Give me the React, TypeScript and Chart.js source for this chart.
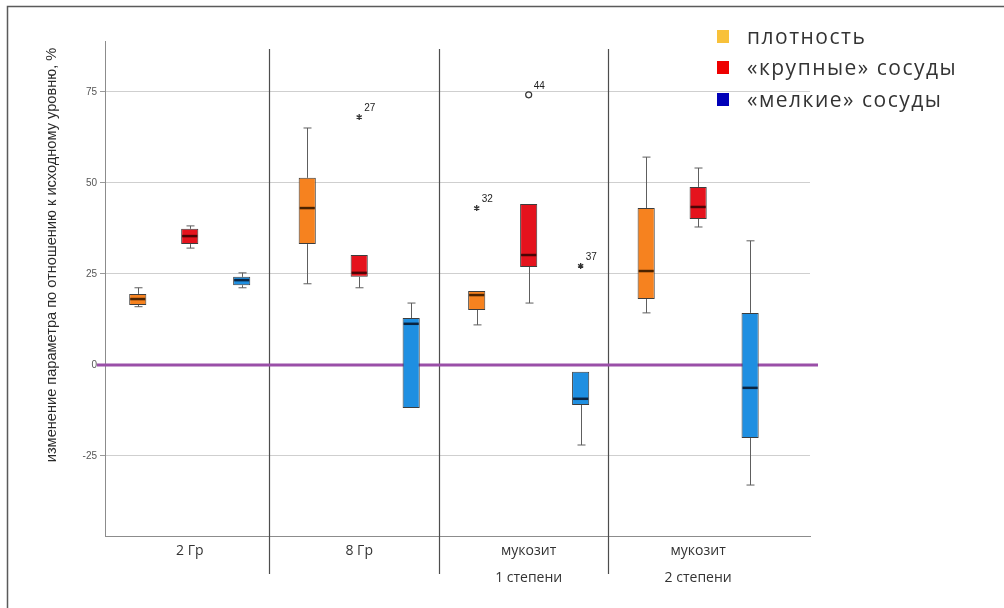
import React, { useEffect, useRef } from 'react';
import { Chart, registerables } from 'chart.js';

Chart.register(...registerables);

// ---------- data ----------
const categories: (string | string[])[] = ['2 Гр', '8 Гр', ['мукозит', '1 степени'], ['мукозит', '2 степени']];
const seriesNames = ['плотность', '«крупные» сосуды', '«мелкие» сосуды'];

// плотность
const densityLow = [16.0, 22.3, 11.0, 14.3];
const densityQ1 = [16.5, 33.2, 15.1, 18.1];
const densityMedian = [18.1, 43.1, 19.2, 25.8];
const densityQ3 = [19.5, 51.4, 20.3, 43.1];
const densityHigh = [21.2, 65.1, 20.3, 57.1];

// «крупные» сосуды
const largeLow = [32.1, 21.2, 17.0, 37.9];
const largeQ1 = [33.2, 24.2, 26.9, 40.1];
const largeMedian = [35.4, 25.3, 30.2, 43.4];
const largeQ3 = [37.4, 30.2, 44.2, 48.9];
const largeHigh = [38.2, 30.2, 44.2, 54.1];

// «мелкие» сосуды
const smallLow = [21.2, -11.8, -22.0, -33.0];
const smallQ1 = [21.9, -11.8, -11.0, -20.1];
const smallMedian = [23.3, 11.3, -9.3, -6.3];
const smallQ3 = [24.2, 12.9, -1.9, 14.3];
const smallHigh = [25.3, 17.0, -1.9, 34.1];

// outliers
const outlierSeries = [1, 0, 1, 2];
const outlierCategory = [1, 2, 2, 2];
const outlierValue = [68.1, 43.1, 74.2, 27.2];
const outlierLabel = ['27', '32', '44', '37'];
const outlierShape = ['star', 'star', 'circle', 'star'];

const yTicks = [-25, 0, 25, 50, 75];
const yTitle = 'изменение параметра по отношению к исходному уровню, %';

// ---------- styles ----------
const boxFill = ['#f6821f', '#e5131d', '#1f8fe1'];
const medianColor = ['#4a2200', '#4a0505', '#0b2440'];
const legendColors = ['#f8c13a', '#ee0000', '#0000b8'];

const lows = [densityLow, largeLow, smallLow];
const q1s = [densityQ1, largeQ1, smallQ1];
const medians = [densityMedian, largeMedian, smallMedian];
const q3s = [densityQ3, largeQ3, smallQ3];
const highs = [densityHigh, largeHigh, smallHigh];

const extrasPlugin = {
  id: 'boxExtras',
  beforeDraw(chart: any) {
    const { ctx, width, height } = chart;
    ctx.save();
    ctx.fillStyle = '#ffffff';
    ctx.fillRect(0, 0, width, height);
    ctx.strokeStyle = '#5a5a5a';
    ctx.lineWidth = 1.5;
    ctx.beginPath();
    ctx.moveTo(7.5, height);
    ctx.lineTo(7.5, 6.5);
    ctx.lineTo(width, 6.5);
    ctx.stroke();
    ctx.restore();
  },
  beforeDatasetsDraw(chart: any) {
    const { ctx, chartArea, scales } = chart;
    const x = scales.x;
    const y = scales.y;
    ctx.save();
    // category dividers
    ctx.strokeStyle = '#4d4d4d';
    ctx.lineWidth = 1.2;
    for (let i = 0; i < categories.length - 1; i++) {
      const px = Math.round(x.getPixelForValue(i + 0.47)) + 0.5;
      ctx.beginPath();
      ctx.moveTo(px, chartArea.top + 8);
      ctx.lineTo(px, chartArea.bottom + 38);
      ctx.stroke();
    }
    // zero line
    const y0 = y.getPixelForValue(0);
    ctx.strokeStyle = '#9a4fa8';
    ctx.lineWidth = 3;
    ctx.beginPath();
    ctx.moveTo(chartArea.left - 8, y0);
    ctx.lineTo(chartArea.right + 8, y0);
    ctx.stroke();
    ctx.restore();
  },
  afterDatasetsDraw(chart: any) {
    const { ctx, scales } = chart;
    const y = scales.y;
    ctx.save();
    for (let s = 0; s < seriesNames.length; s++) {
      const meta = chart.getDatasetMeta(s);
      meta.data.forEach((bar: any, c: number) => {
        const cx = bar.x;
        const w = bar.width;
        const yLow = y.getPixelForValue(lows[s][c]);
        const yQ1 = y.getPixelForValue(q1s[s][c]);
        const yQ3 = y.getPixelForValue(q3s[s][c]);
        const yHigh = y.getPixelForValue(highs[s][c]);
        const yMed = y.getPixelForValue(medians[s][c]);
        const xc = Math.round(cx) + 0.5;
        ctx.strokeStyle = '#5e5e5e';
        ctx.lineWidth = 1;
        const cap = 4;
        if (yHigh < yQ3 - 0.5) {
          ctx.beginPath();
          ctx.moveTo(xc, yQ3);
          ctx.lineTo(xc, yHigh);
          ctx.moveTo(xc - cap, yHigh);
          ctx.lineTo(xc + cap, yHigh);
          ctx.stroke();
        }
        if (yLow > yQ1 + 0.5) {
          ctx.beginPath();
          ctx.moveTo(xc, yQ1);
          ctx.lineTo(xc, yLow);
          ctx.moveTo(xc - cap, yLow);
          ctx.lineTo(xc + cap, yLow);
          ctx.stroke();
        }
        ctx.strokeStyle = medianColor[s];
        ctx.lineWidth = 2.5;
        ctx.beginPath();
        ctx.moveTo(cx - w / 2 + 1, yMed);
        ctx.lineTo(cx + w / 2 - 1, yMed);
        ctx.stroke();
      });
    }
    // outliers
    ctx.font = '10px "Liberation Sans", Arial, sans-serif';
    ctx.textAlign = 'left';
    ctx.textBaseline = 'middle';
    for (let k = 0; k < outlierValue.length; k++) {
      const bar = chart.getDatasetMeta(outlierSeries[k]).data[outlierCategory[k]];
      const px = bar.x;
      const py = y.getPixelForValue(outlierValue[k]);
      ctx.strokeStyle = '#333';
      ctx.fillStyle = '#333';
      if (outlierShape[k] === 'circle') {
        ctx.lineWidth = 1.2;
        ctx.beginPath();
        ctx.arc(px, py, 3, 0, Math.PI * 2);
        ctx.stroke();
      } else {
        ctx.lineWidth = 1.3;
        ctx.beginPath();
        for (let a = 0; a < 3; a++) {
          const ang = (a * Math.PI) / 3 + Math.PI / 2;
          ctx.moveTo(px - Math.cos(ang) * 3, py - Math.sin(ang) * 3);
          ctx.lineTo(px + Math.cos(ang) * 3, py + Math.sin(ang) * 3);
        }
        ctx.stroke();
      }
      ctx.fillStyle = '#222';
      ctx.fillText(outlierLabel[k], px + 5, py - 9);
    }
    ctx.restore();
  },
  afterDraw(chart: any) {
    const { ctx } = chart;
    ctx.save();
    ctx.translate(52, 255);
    ctx.rotate(-Math.PI / 2);
    ctx.font = '14.6px "Liberation Sans", Arial, sans-serif';
    ctx.fillStyle = '#2a2a2a';
    ctx.textAlign = 'center';
    ctx.textBaseline = 'middle';
    ctx.fillText(yTitle, 0, 0);
    ctx.restore();
  },
};

export default function App() {
  const canvasRef = useRef<HTMLCanvasElement | null>(null);

  useEffect(() => {
    document.body.style.margin = '0';
    const canvas = canvasRef.current;
    if (!canvas) return;
    const datasets = seriesNames.map((name, s) => ({
      label: name,
      data: categories.map((_, c) => ({ x: c, y: [q1s[s][c], q3s[s][c]] })),
      backgroundColor: boxFill[s],
      borderColor: '#3d3d3d',
      borderWidth: 1,
      borderSkipped: false,
      categoryPercentage: 0.92,
      barPercentage: 0.33,
    }));
    const chart = new Chart(canvas, {
      type: 'bar',
      data: { datasets } as any,
      plugins: [extrasPlugin],
      options: {
        animation: false,
        responsive: false,
        maintainAspectRatio: false,
        layout: { padding: { left: 8, top: 41, right: 194, bottom: 0 } },
        plugins: { legend: { display: false }, tooltip: { enabled: false } },
        scales: {
          x: {
            type: 'linear',
            min: -0.5,
            max: 3.66,
            offset: false,
            grid: { display: false, drawTicks: false, offset: false },
            border: { display: true, color: '#8c8c8c', width: 1 },
            afterBuildTicks: (scale: any) => {
              scale.ticks = categories.map((_, i) => ({ value: i }));
            },
            afterFit: (scale: any) => {
              scale.height = 72;
            },
            ticks: {
              autoSkip: false,
              maxRotation: 0,
              padding: 1,
              color: '#333',
              font: { family: '"Open Sans", sans-serif', size: 14, lineHeight: 1.95 },
              callback: (v: any) => categories[v as number] as any,
            },
          },
          y: {
            type: 'linear',
            min: -47,
            max: 89,
            afterBuildTicks: (scale: any) => {
              scale.ticks = yTicks.map((v) => ({ value: v }));
            },
            afterFit: (scale: any) => {
              scale.width = 97;
            },
            grid: {
              color: (ctx: any) => (ctx.tick && ctx.tick.value === 0 ? 'rgba(0,0,0,0)' : '#cfcfcf'),
              tickColor: '#9a9a9a',
              tickLength: 5,
              lineWidth: 1,
            },
            border: { display: true, color: '#8c8c8c', width: 1 },
            ticks: {
              padding: 3,
              color: '#555',
              font: { family: '"Liberation Sans", Arial, sans-serif', size: 10 },
            },
          },
        },
      } as any,
    });
    return () => chart.destroy();
  }, []);

  const legendTops = [36, 67, 99];
  return (
    <div style={{ position: 'absolute', left: 0, top: 0, width: 1004, height: 608, background: '#fff', overflow: 'hidden' }}>
      <canvas ref={canvasRef} width={1004} height={608} style={{ position: 'absolute', left: 0, top: 0, width: 1004, height: 608 }} />
      {seriesNames.map((name, i) => (
        <div key={name} style={{ position: 'absolute', left: 717, top: legendTops[i] - 15, height: 30, display: 'flex', alignItems: 'center', whiteSpace: 'nowrap' }}>
          <span style={{ display: 'inline-block', width: 12, height: 13, background: legendColors[i], marginRight: 18 }} />
          <span style={{ fontFamily: '"Open Sans", sans-serif', fontSize: 21, letterSpacing: 1.5, color: '#333' }}>{name}</span>
        </div>
      ))}
    </div>
  );
}
